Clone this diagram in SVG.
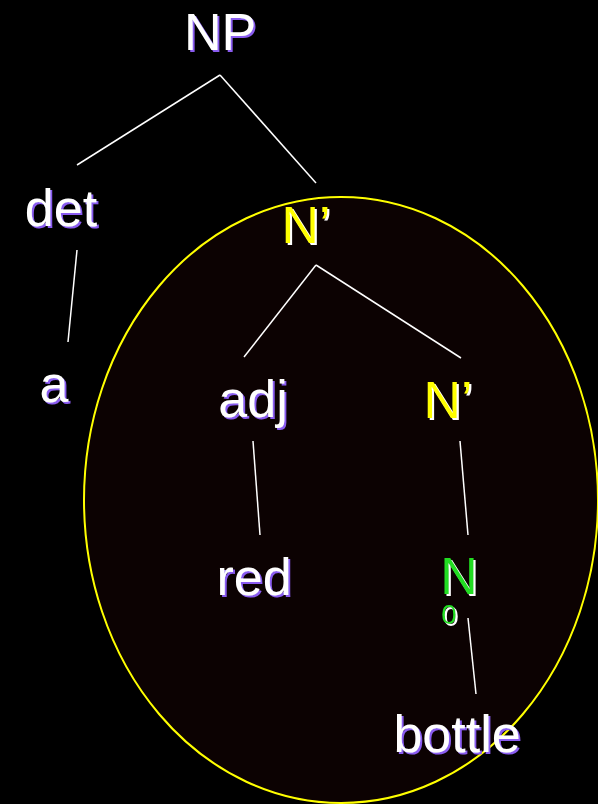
<svg xmlns="http://www.w3.org/2000/svg" width="598" height="804" viewBox="0 0 598 804">
<defs>
<filter id="ps" x="-10%" y="-10%" width="130%" height="130%">
<feOffset in="SourceAlpha" dx="2" dy="2" result="o"/>
<feFlood flood-color="#8a5cf0"/>
<feComposite in2="o" operator="in" result="s"/>
<feMerge><feMergeNode in="s"/><feMergeNode in="SourceGraphic"/></feMerge>
</filter>
<filter id="ws" x="-10%" y="-10%" width="130%" height="130%">
<feOffset in="SourceAlpha" dx="1.5" dy="1.5" result="o"/>
<feFlood flood-color="#ffffff"/>
<feComposite in2="o" operator="in" result="s"/>
<feMerge><feMergeNode in="s"/><feMergeNode in="SourceGraphic"/></feMerge>
</filter>
</defs>
<style>
text{font-family:"Liberation Sans",Arial,sans-serif;font-size:52px;text-anchor:middle}
.w{fill:#ffffff;filter:url(#ps)}
.y{fill:#ffff00;filter:url(#ws)}
.g{fill:#22dd22;filter:url(#ws)}
line{stroke:#ffffff;stroke-width:1.5}
</style>
<rect width="598" height="804" fill="#000000"/>
<ellipse id="circle" cx="341" cy="500" rx="257" ry="303" fill="#0c0202" stroke="#ffff00" stroke-width="2"/>
<g id="connectors">
<line x1="220" y1="75" x2="77" y2="165"/>
<line x1="220" y1="75" x2="316" y2="183"/>
<line x1="77" y1="250" x2="68" y2="342"/>
<line x1="316" y1="265" x2="244" y2="357"/>
<line x1="316" y1="265" x2="461" y2="358"/>
<line x1="253" y1="441" x2="260" y2="535"/>
<line x1="460" y1="441" x2="468" y2="535"/>
<line x1="468" y1="618" x2="476" y2="694"/>
</g>
<g id="NP"><text class="w" x="220" y="50">NP</text></g>
<g id="det"><text class="w" x="61" y="226">det</text></g>
<g id="Nbar1"><text class="y" x="306" y="243">N’</text></g>
<g id="a"><text class="w" x="54" y="402">a</text></g>
<g id="adj"><text class="w" x="253" y="417">adj</text></g>
<g id="Nbar2"><text class="y" x="448" y="418">N’</text></g>
<g id="red"><text class="w" x="254" y="595">red</text></g>
<g id="N0"><text class="g" x="459" y="594">N</text><text class="g" x="449" y="624" style="font-size:28px">0</text></g>
<g id="bottle"><text class="w" x="457" y="752">bottle</text></g>
</svg>
